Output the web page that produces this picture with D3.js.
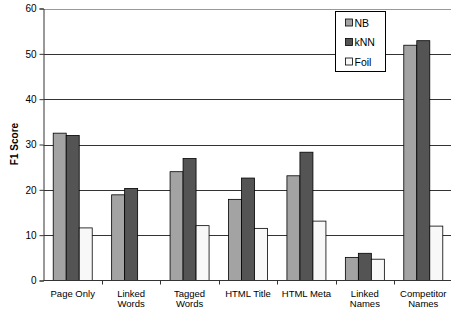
<!DOCTYPE html>
<html><head><meta charset="utf-8">
<script src="https://cdn.jsdelivr.net/npm/d3@7"></script>
<style>body{margin:0;background:#fff;}svg{display:block;font-family:Arial,"Liberation Sans",sans-serif;}</style>
</head><body>
<svg id="c" width="451" height="309"></svg>
<script>
const categories = [["Page Only"],["Linked","Words"],["Tagged","Words"],["HTML Title"],["HTML Meta"],["Linked","Names"],["Competitor","Names"]];
const seriesNames = ["NB","kNN","Foil"];
const nbValues = [32.5, 18.9, 24.0, 17.9, 23.1, 5.1, 51.9];
const knnValues = [32.0, 20.3, 26.9, 22.6, 28.3, 6.0, 52.9];
const foilValues = [11.6, 0, 12.1, 11.5, 13.1, 4.7, 12.0];
const yTicks = [0,10,20,30,40,50,60];
const colors = ["#a3a3a3","#545454","#f8f8f8"];

(function(){
const svg = d3.select("#c");
const mLeft = 43.5, mRight = 452.5, mTop = 8.5, mBottom = 280.5;
const series = [nbValues, knnValues, foilValues];
const idx = d3.range(categories.length);
const x = d3.scaleBand().domain(idx).range([mLeft, mRight]).paddingInner(0).paddingOuter(0);
const y = d3.scaleLinear().domain([0,60]).range([mBottom, mTop]);
const xs = d3.scaleBand().domain(d3.range(3)).range([0, 39]);

// grid
svg.append("g").selectAll("line").data(yTicks.filter(d=>d>0)).join("line")
  .attr("x1", mLeft).attr("x2", 451).attr("y1", d=>Math.round(y(d))+0.5).attr("y2", d=>Math.round(y(d))+0.5)
  .attr("stroke", d=> d===60 ? "#999" : "#333").attr("stroke-width",1);

// bars
const g = svg.append("g");
idx.forEach(i=>{
  series.forEach((vals,s)=>{
    if (vals[i] <= 0) return;
    const x0 = x(i) + (x.bandwidth()-39)/2 + xs(s);
    g.append("rect").attr("x", x0).attr("y", y(vals[i])).attr("width", xs.bandwidth()).attr("height", y(0)-y(vals[i]))
      .attr("fill", colors[s]).attr("stroke","#000").attr("stroke-width",0.8);
  });
});

// y axis
const ya = svg.append("g").attr("transform",`translate(${mLeft},0)`).call(d3.axisLeft(y).tickValues(yTicks).tickSize(4).tickPadding(3));
ya.select(".domain").attr("stroke","#333");
ya.selectAll(".tick line").attr("stroke","#333");
ya.selectAll("text").attr("font-size","10px").attr("fill","#000").attr("font-family","Arial, 'Liberation Sans', sans-serif");

// x axis
svg.append("line").attr("x1",mLeft).attr("x2",451).attr("y1",mBottom).attr("y2",mBottom).attr("stroke","#333");
svg.append("g").selectAll("line").data(idx.slice(1)).join("line")
  .attr("x1", d=>Math.round(x(d))+0.5).attr("x2", d=>Math.round(x(d))+0.5).attr("y1", mBottom).attr("y2", mBottom+4).attr("stroke","#333");
const lab = svg.append("g").selectAll("text").data(idx).join("text")
  .attr("x", d=>x(d)+x.bandwidth()/2).attr("y", 296.5).attr("text-anchor","middle").attr("font-size","9.5px").attr("fill","#000");
lab.each(function(d){
  const t = d3.select(this);
  categories[d].forEach((line,k)=>{
    t.append("tspan").attr("x", x(d)+x.bandwidth()/2).attr("dy", k===0?0:10.5).text(line);
  });
});

// y label
svg.append("text").attr("transform","translate(18,144) rotate(-90)").attr("text-anchor","middle")
  .attr("font-size","10px").attr("font-weight","bold").text("F1 Score");

// legend
const lg = svg.append("g").attr("transform","translate(335.5,11.5)");
lg.append("rect").attr("width",50).attr("height",60).attr("fill","#fff").attr("stroke","#000").attr("stroke-width",1);
seriesNames.forEach((n,i)=>{
  const yy = 11.5 + i*19.5;
  lg.append("rect").attr("x",10).attr("y",yy-4).attr("width",7).attr("height",7).attr("fill",colors[i]).attr("stroke","#000").attr("stroke-width",0.8);
  lg.append("text").attr("x",19).attr("y",yy+3.5).attr("font-size","10.5px").attr("fill","#000").text(n);
});
})();
</script>
</body></html>
